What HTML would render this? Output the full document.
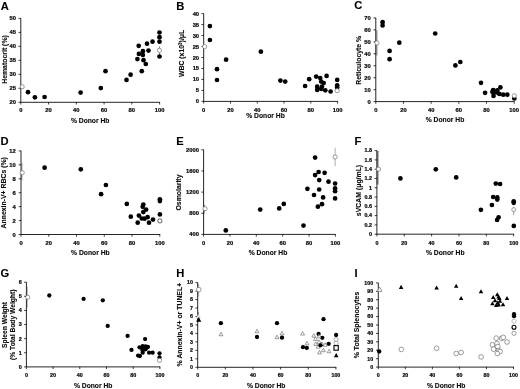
<!DOCTYPE html>
<html><head><meta charset="utf-8"><title>Figure</title>
<style>
html,body{margin:0;padding:0;background:#fff;}
body{width:520px;height:389px;overflow:hidden;}
svg{display:block;}
text{font-family:"Liberation Sans", sans-serif;font-weight:bold;fill:#0a0a0a;stroke:#0a0a0a;stroke-width:0.22px;}
.t{font-size:5.8px;}
.l{font-size:6.9px;stroke-width:0.12px;}
.x{font-size:6.75px;stroke-width:0.12px;}
.L{font-size:11.2px;fill:#000;stroke-width:0.1px;}
</style></head><body>
<svg width="520" height="389" viewBox="0 0 520 389">
<rect width="520" height="389" fill="#fff"/>
<g filter="url(#b)"><path d="M159.5 46.4V55.2" stroke="#888" stroke-width="1.0" fill="none"/><path d="M376.6 30.4V55.4" stroke="#aaa" stroke-width="2.0" fill="none"/><path d="M21.9 163V180.4" stroke="#999" stroke-width="1.0" fill="none"/><path d="M335.1 147.7V166.2" stroke="#a5a5a5" stroke-width="0.9" fill="none"/><path d="M204.6 204.5V213.5" stroke="#999" stroke-width="0.9" fill="none"/><path d="M377.6 151V184.5" stroke="#8a8a8a" stroke-width="2.0" fill="none"/><path d="M513.7 207V215" stroke="#888" stroke-width="0.9" fill="none"/><path d="M27.2 286.6V307.4" stroke="#bbb" stroke-width="1.4" fill="none"/><path d="M198.6 284V296.6" stroke="#bbb" stroke-width="1.2" fill="none"/><path d="M198.6 312V322" stroke="#aaa" stroke-width="1.0" fill="none"/></g>
<defs><filter id="b" x="-5%" y="-5%" width="110%" height="110%"><feGaussianBlur stdDeviation="0.3"/></filter></defs>
<text x="0.8" y="9.6" class="L">A</text>
<path d="M20.8 18.4V102.3H159.9" fill="none" stroke="#262626" stroke-width="1"/>
<text x="15.9" y="104.3" text-anchor="end" class="t">20</text>
<text x="15.9" y="90.32" text-anchor="end" class="t">25</text>
<text x="15.9" y="76.33" text-anchor="end" class="t">30</text>
<text x="15.9" y="62.35" text-anchor="end" class="t">35</text>
<text x="15.9" y="48.37" text-anchor="end" class="t">40</text>
<text x="15.9" y="34.38" text-anchor="end" class="t">45</text>
<text x="15.9" y="20.4" text-anchor="end" class="t">50</text>
<text x="20.8" y="112.4" text-anchor="middle" class="t">0</text>
<text x="48.56" y="112.4" text-anchor="middle" class="t">20</text>
<text x="76.32" y="112.4" text-anchor="middle" class="t">40</text>
<text x="104.08" y="112.4" text-anchor="middle" class="t">60</text>
<text x="131.84" y="112.4" text-anchor="middle" class="t">80</text>
<text x="159.6" y="112.4" text-anchor="middle" class="t">100</text>
<path d="M18.5 102.3H21M18.5 88.32H21M18.5 74.33H21M18.5 60.35H21M18.5 46.37H21M18.5 32.38H21M18.5 18.4H21M20.8 102V104.5M48.56 102V104.5M76.32 102V104.5M104.08 102V104.5M131.84 102V104.5M159.6 102V104.5" fill="none" stroke="#111" stroke-width="0.8"/>
<text x="90.2" y="122.7" text-anchor="middle" class="x">% Donor Hb</text>
<text transform="translate(7 59.5) rotate(-90)" text-anchor="middle" class="l" style="font-size:6.9px">Hematocrit (%)</text>
<text x="176.3" y="9.5" class="L">B</text>
<path d="M203.7 13.6V101.4H337.9" fill="none" stroke="#262626" stroke-width="1"/>
<text x="199.1" y="103.4" text-anchor="end" class="t">0</text>
<text x="199.1" y="92.43" text-anchor="end" class="t">5</text>
<text x="199.1" y="81.45" text-anchor="end" class="t">10</text>
<text x="199.1" y="70.47" text-anchor="end" class="t">15</text>
<text x="199.1" y="59.5" text-anchor="end" class="t">20</text>
<text x="199.1" y="48.52" text-anchor="end" class="t">25</text>
<text x="199.1" y="37.55" text-anchor="end" class="t">30</text>
<text x="199.1" y="26.57" text-anchor="end" class="t">35</text>
<text x="199.1" y="15.6" text-anchor="end" class="t">40</text>
<text x="203.7" y="112.2" text-anchor="middle" class="t">0</text>
<text x="230.48" y="112.2" text-anchor="middle" class="t">20</text>
<text x="257.26" y="112.2" text-anchor="middle" class="t">40</text>
<text x="284.04" y="112.2" text-anchor="middle" class="t">60</text>
<text x="310.82" y="112.2" text-anchor="middle" class="t">80</text>
<text x="337.6" y="112.2" text-anchor="middle" class="t">100</text>
<path d="M201.4 101.4H203.9M201.4 90.43H203.9M201.4 79.45H203.9M201.4 68.47H203.9M201.4 57.5H203.9M201.4 46.52H203.9M201.4 35.55H203.9M201.4 24.57H203.9M201.4 13.6H203.9M203.7 101.1V103.6M230.48 101.1V103.6M257.26 101.1V103.6M284.04 101.1V103.6M310.82 101.1V103.6M337.6 101.1V103.6" fill="none" stroke="#111" stroke-width="0.8"/>
<text x="265.5" y="117.8" text-anchor="middle" class="x">% Donor Hb</text>
<text transform="translate(183.7 53.4) rotate(-90)" text-anchor="middle" class="l" style="font-size:6.9px">WBC (x10<tspan dy="-2" style="font-size:4.5px">3</tspan><tspan dy="2">)/μL</tspan></text>
<text x="354.3" y="9.3" class="L">C</text>
<path d="M375.8 17.9V101.6H514.5" fill="none" stroke="#262626" stroke-width="1"/>
<text x="370.7" y="103.6" text-anchor="end" class="t">0</text>
<text x="370.7" y="91.64" text-anchor="end" class="t">10</text>
<text x="370.7" y="79.69" text-anchor="end" class="t">20</text>
<text x="370.7" y="67.73" text-anchor="end" class="t">30</text>
<text x="370.7" y="55.77" text-anchor="end" class="t">40</text>
<text x="370.7" y="43.81" text-anchor="end" class="t">50</text>
<text x="370.7" y="31.86" text-anchor="end" class="t">60</text>
<text x="370.7" y="19.9" text-anchor="end" class="t">70</text>
<text x="375.8" y="112.2" text-anchor="middle" class="t">0</text>
<text x="403.48" y="112.2" text-anchor="middle" class="t">20</text>
<text x="431.16" y="112.2" text-anchor="middle" class="t">40</text>
<text x="458.84" y="112.2" text-anchor="middle" class="t">60</text>
<text x="486.52" y="112.2" text-anchor="middle" class="t">80</text>
<text x="514.2" y="112.2" text-anchor="middle" class="t">100</text>
<path d="M373.5 101.6H376M373.5 89.64H376M373.5 77.69H376M373.5 65.73H376M373.5 53.77H376M373.5 41.81H376M373.5 29.86H376M373.5 17.9H376M375.8 101.3V103.8M403.48 101.3V103.8M431.16 101.3V103.8M458.84 101.3V103.8M486.52 101.3V103.8M514.2 101.3V103.8" fill="none" stroke="#111" stroke-width="0.8"/>
<text x="445" y="122.4" text-anchor="middle" class="x">% Donor Hb</text>
<text transform="translate(360.9 60.3) rotate(-90)" text-anchor="middle" class="l" style="font-size:6.9px">Reticulocyte %</text>
<text x="0.5" y="144.8" class="L">D</text>
<path d="M21 150.9V234.5H160.1" fill="none" stroke="#262626" stroke-width="1"/>
<text x="15.7" y="236.5" text-anchor="end" class="t">0</text>
<text x="15.7" y="222.57" text-anchor="end" class="t">2</text>
<text x="15.7" y="208.63" text-anchor="end" class="t">4</text>
<text x="15.7" y="194.7" text-anchor="end" class="t">6</text>
<text x="15.7" y="180.77" text-anchor="end" class="t">8</text>
<text x="15.7" y="166.83" text-anchor="end" class="t">10</text>
<text x="15.7" y="152.9" text-anchor="end" class="t">12</text>
<text x="21" y="245.3" text-anchor="middle" class="t">0</text>
<text x="48.76" y="245.3" text-anchor="middle" class="t">20</text>
<text x="76.52" y="245.3" text-anchor="middle" class="t">40</text>
<text x="104.28" y="245.3" text-anchor="middle" class="t">60</text>
<text x="132.04" y="245.3" text-anchor="middle" class="t">80</text>
<text x="159.8" y="245.3" text-anchor="middle" class="t">100</text>
<path d="M18.7 234.5H21.2M18.7 220.57H21.2M18.7 206.63H21.2M18.7 192.7H21.2M18.7 178.77H21.2M18.7 164.83H21.2M18.7 150.9H21.2M21 234.2V236.7M48.76 234.2V236.7M76.52 234.2V236.7M104.28 234.2V236.7M132.04 234.2V236.7M159.8 234.2V236.7" fill="none" stroke="#111" stroke-width="0.8"/>
<text x="90.4" y="255" text-anchor="middle" class="x">% Donor Hb</text>
<text transform="translate(5.6 192.8) rotate(-90)" text-anchor="middle" class="l" style="font-size:6.9px">Annexin-V+ RBCs (%)</text>
<text x="176.2" y="144.8" class="L">E</text>
<path d="M203.6 149.8V234.4H335.7" fill="none" stroke="#262626" stroke-width="1"/>
<text x="199" y="236.4" text-anchor="end" class="t">400</text>
<text x="199" y="215.25" text-anchor="end" class="t">800</text>
<text x="199" y="194.1" text-anchor="end" class="t">1200</text>
<text x="199" y="172.95" text-anchor="end" class="t">1600</text>
<text x="199" y="151.8" text-anchor="end" class="t">2000</text>
<text x="203.6" y="245.3" text-anchor="middle" class="t">0</text>
<text x="229.96" y="245.3" text-anchor="middle" class="t">20</text>
<text x="256.32" y="245.3" text-anchor="middle" class="t">40</text>
<text x="282.68" y="245.3" text-anchor="middle" class="t">60</text>
<text x="309.04" y="245.3" text-anchor="middle" class="t">80</text>
<text x="335.4" y="245.3" text-anchor="middle" class="t">100</text>
<path d="M201.3 234.4H203.8M201.3 213.25H203.8M201.3 192.1H203.8M201.3 170.95H203.8M201.3 149.8H203.8M203.6 234.1V236.6M229.96 234.1V236.6M256.32 234.1V236.6M282.68 234.1V236.6M309.04 234.1V236.6M335.4 234.1V236.6" fill="none" stroke="#111" stroke-width="0.8"/>
<text x="268" y="254.6" text-anchor="middle" class="x">% Donor Hb</text>
<text transform="translate(181.2 192.5) rotate(-90)" text-anchor="middle" class="l" style="font-size:6.9px">Osmolarity</text>
<text x="354.6" y="144.8" class="L">F</text>
<path d="M376.9 150.6V234.2H514" fill="none" stroke="#262626" stroke-width="1"/>
<text x="372.1" y="236.06" text-anchor="end" class="t" style="font-size:5.4px">0</text>
<text x="372.1" y="226.77" text-anchor="end" class="t" style="font-size:5.4px">0.2</text>
<text x="372.1" y="217.49" text-anchor="end" class="t" style="font-size:5.4px">0.4</text>
<text x="372.1" y="208.2" text-anchor="end" class="t" style="font-size:5.4px">0.6</text>
<text x="372.1" y="198.91" text-anchor="end" class="t" style="font-size:5.4px">0.8</text>
<text x="372.1" y="189.62" text-anchor="end" class="t" style="font-size:5.4px">1</text>
<text x="372.1" y="180.33" text-anchor="end" class="t" style="font-size:5.4px">1.2</text>
<text x="372.1" y="171.04" text-anchor="end" class="t" style="font-size:5.4px">1.4</text>
<text x="372.1" y="161.75" text-anchor="end" class="t" style="font-size:5.4px">1.6</text>
<text x="372.1" y="152.46" text-anchor="end" class="t" style="font-size:5.4px">1.8</text>
<text x="376.9" y="245.3" text-anchor="middle" class="t" style="font-size:5.4px">0</text>
<text x="404.26" y="245.3" text-anchor="middle" class="t" style="font-size:5.4px">20</text>
<text x="431.62" y="245.3" text-anchor="middle" class="t" style="font-size:5.4px">40</text>
<text x="458.98" y="245.3" text-anchor="middle" class="t" style="font-size:5.4px">60</text>
<text x="486.34" y="245.3" text-anchor="middle" class="t" style="font-size:5.4px">80</text>
<text x="513.7" y="245.3" text-anchor="middle" class="t" style="font-size:5.4px">100</text>
<path d="M374.6 234.2H377.1M374.6 224.91H377.1M374.6 215.62H377.1M374.6 206.33H377.1M374.6 197.04H377.1M374.6 187.76H377.1M374.6 178.47H377.1M374.6 169.18H377.1M374.6 159.89H377.1M374.6 150.6H377.1M376.9 233.9V236.4M404.26 233.9V236.4M431.62 233.9V236.4M458.98 233.9V236.4M486.34 233.9V236.4M513.7 233.9V236.4" fill="none" stroke="#111" stroke-width="0.8"/>
<text x="445.3" y="254.9" text-anchor="middle" class="x">% Donor Hb</text>
<text transform="translate(360.9 190.5) rotate(-90)" text-anchor="middle" class="l" style="font-size:6.9px">sVCAM (μg/mL)</text>
<text x="0.4" y="277.2" class="L">G</text>
<path d="M26.4 282.2V366.9H160.2" fill="none" stroke="#262626" stroke-width="1"/>
<text x="21.8" y="368.76" text-anchor="end" class="t" style="font-size:5.4px">0</text>
<text x="21.8" y="354.65" text-anchor="end" class="t" style="font-size:5.4px">1</text>
<text x="21.8" y="340.53" text-anchor="end" class="t" style="font-size:5.4px">2</text>
<text x="21.8" y="326.41" text-anchor="end" class="t" style="font-size:5.4px">3</text>
<text x="21.8" y="312.3" text-anchor="end" class="t" style="font-size:5.4px">4</text>
<text x="21.8" y="298.18" text-anchor="end" class="t" style="font-size:5.4px">5</text>
<text x="21.8" y="284.06" text-anchor="end" class="t" style="font-size:5.4px">6</text>
<text x="26.4" y="376.9" text-anchor="middle" class="t" style="font-size:5.4px">0</text>
<text x="53.1" y="376.9" text-anchor="middle" class="t" style="font-size:5.4px">20</text>
<text x="79.8" y="376.9" text-anchor="middle" class="t" style="font-size:5.4px">40</text>
<text x="106.5" y="376.9" text-anchor="middle" class="t" style="font-size:5.4px">60</text>
<text x="133.2" y="376.9" text-anchor="middle" class="t" style="font-size:5.4px">80</text>
<text x="159.9" y="376.9" text-anchor="middle" class="t" style="font-size:5.4px">100</text>
<path d="M24.1 366.9H26.6M24.1 352.78H26.6M24.1 338.67H26.6M24.1 324.55H26.6M24.1 310.43H26.6M24.1 296.32H26.6M24.1 282.2H26.6M26.4 366.6V369.1M53.1 366.6V369.1M79.8 366.6V369.1M106.5 366.6V369.1M133.2 366.6V369.1M159.9 366.6V369.1" fill="none" stroke="#111" stroke-width="0.8"/>
<text x="93.2" y="388" text-anchor="middle" class="x">% Donor Hb</text>
<text transform="translate(6.7 325.1) rotate(-90)" text-anchor="middle" class="l" style="font-size:6.7px">Spleen Weight</text>
<text transform="translate(14.6 324.8) rotate(-90)" text-anchor="middle" class="l" style="font-size:6.7px">(% Total Body Weight)</text>
<text x="176.2" y="277.2" class="L">H</text>
<path d="M197.7 282.6V367.3H336.2" fill="none" stroke="#262626" stroke-width="1"/>
<text x="192.9" y="369.13" text-anchor="end" class="t" style="font-size:5.3px">0</text>
<text x="192.9" y="360.66" text-anchor="end" class="t" style="font-size:5.3px">1</text>
<text x="192.9" y="352.19" text-anchor="end" class="t" style="font-size:5.3px">2</text>
<text x="192.9" y="343.72" text-anchor="end" class="t" style="font-size:5.3px">3</text>
<text x="192.9" y="335.25" text-anchor="end" class="t" style="font-size:5.3px">4</text>
<text x="192.9" y="326.78" text-anchor="end" class="t" style="font-size:5.3px">5</text>
<text x="192.9" y="318.31" text-anchor="end" class="t" style="font-size:5.3px">6</text>
<text x="192.9" y="309.84" text-anchor="end" class="t" style="font-size:5.3px">7</text>
<text x="192.9" y="301.37" text-anchor="end" class="t" style="font-size:5.3px">8</text>
<text x="192.9" y="292.9" text-anchor="end" class="t" style="font-size:5.3px">9</text>
<text x="192.9" y="284.43" text-anchor="end" class="t" style="font-size:5.3px">10</text>
<text x="197.7" y="376.9" text-anchor="middle" class="t" style="font-size:5.3px">0</text>
<text x="225.34" y="376.9" text-anchor="middle" class="t" style="font-size:5.3px">20</text>
<text x="252.98" y="376.9" text-anchor="middle" class="t" style="font-size:5.3px">40</text>
<text x="280.62" y="376.9" text-anchor="middle" class="t" style="font-size:5.3px">60</text>
<text x="308.26" y="376.9" text-anchor="middle" class="t" style="font-size:5.3px">80</text>
<text x="335.9" y="376.9" text-anchor="middle" class="t" style="font-size:5.3px">100</text>
<path d="M195.4 367.3H197.9M195.4 358.83H197.9M195.4 350.36H197.9M195.4 341.89H197.9M195.4 333.42H197.9M195.4 324.95H197.9M195.4 316.48H197.9M195.4 308.01H197.9M195.4 299.54H197.9M195.4 291.07H197.9M195.4 282.6H197.9M197.7 367V369.5M225.34 367V369.5M252.98 367V369.5M280.62 367V369.5M308.26 367V369.5M335.9 367V369.5" fill="none" stroke="#111" stroke-width="0.8"/>
<text x="266.2" y="388.2" text-anchor="middle" class="x">% Donor Hb</text>
<text transform="translate(182.3 324.6) rotate(-90)" text-anchor="middle" class="l" style="font-size:6.9px">% Annexin-V+ or TUNEL+</text>
<text x="354.5" y="277.4" class="L">I</text>
<path d="M378.3 282.9V367.1H513.8" fill="none" stroke="#262626" stroke-width="1"/>
<text x="373.1" y="368.93" text-anchor="end" class="t" style="font-size:5.3px">0</text>
<text x="373.1" y="360.51" text-anchor="end" class="t" style="font-size:5.3px">10</text>
<text x="373.1" y="352.09" text-anchor="end" class="t" style="font-size:5.3px">20</text>
<text x="373.1" y="343.67" text-anchor="end" class="t" style="font-size:5.3px">30</text>
<text x="373.1" y="335.25" text-anchor="end" class="t" style="font-size:5.3px">40</text>
<text x="373.1" y="326.83" text-anchor="end" class="t" style="font-size:5.3px">50</text>
<text x="373.1" y="318.41" text-anchor="end" class="t" style="font-size:5.3px">60</text>
<text x="373.1" y="309.99" text-anchor="end" class="t" style="font-size:5.3px">70</text>
<text x="373.1" y="301.57" text-anchor="end" class="t" style="font-size:5.3px">80</text>
<text x="373.1" y="293.15" text-anchor="end" class="t" style="font-size:5.3px">90</text>
<text x="373.1" y="284.73" text-anchor="end" class="t" style="font-size:5.3px">100</text>
<text x="378.3" y="376.9" text-anchor="middle" class="t" style="font-size:5.3px">0</text>
<text x="405.34" y="376.9" text-anchor="middle" class="t" style="font-size:5.3px">20</text>
<text x="432.38" y="376.9" text-anchor="middle" class="t" style="font-size:5.3px">40</text>
<text x="459.42" y="376.9" text-anchor="middle" class="t" style="font-size:5.3px">60</text>
<text x="486.46" y="376.9" text-anchor="middle" class="t" style="font-size:5.3px">80</text>
<text x="513.5" y="376.9" text-anchor="middle" class="t" style="font-size:5.3px">100</text>
<path d="M376 367.1H378.5M376 358.68H378.5M376 350.26H378.5M376 341.84H378.5M376 333.42H378.5M376 325H378.5M376 316.58H378.5M376 308.16H378.5M376 299.74H378.5M376 291.32H378.5M376 282.9H378.5M378.3 366.8V369.3M405.34 366.8V369.3M432.38 366.8V369.3M459.42 366.8V369.3M486.46 366.8V369.3M513.5 366.8V369.3" fill="none" stroke="#111" stroke-width="0.8"/>
<text x="446.2" y="388.2" text-anchor="middle" class="x">% Donor Hb</text>
<text transform="translate(359.3 325) rotate(-90)" text-anchor="middle" class="l" style="font-size:6.9px">% Total Splenocytes</text>
<g filter="url(#b)">
<circle cx="28" cy="92.2" r="2.35" fill="#000"/>
<circle cx="34.9" cy="97.3" r="2.35" fill="#000"/>
<circle cx="44.6" cy="97" r="2.35" fill="#000"/>
<circle cx="80.6" cy="92.6" r="2.35" fill="#000"/>
<circle cx="100.8" cy="88.1" r="2.35" fill="#000"/>
<circle cx="105.5" cy="71.2" r="2.35" fill="#000"/>
<circle cx="126.5" cy="79.9" r="2.35" fill="#000"/>
<circle cx="130.6" cy="74.7" r="2.35" fill="#000"/>
<circle cx="141.8" cy="71.2" r="2.35" fill="#000"/>
<circle cx="145.8" cy="64" r="2.35" fill="#000"/>
<circle cx="143.5" cy="60.2" r="2.35" fill="#000"/>
<circle cx="137.4" cy="59.1" r="2.35" fill="#000"/>
<circle cx="159.5" cy="56.5" r="2.35" fill="#000"/>
<circle cx="142.9" cy="55" r="2.35" fill="#000"/>
<circle cx="138.9" cy="53.9" r="2.35" fill="#000"/>
<circle cx="142.9" cy="51.2" r="2.35" fill="#000"/>
<circle cx="148.5" cy="50.6" r="2.35" fill="#000"/>
<circle cx="138.7" cy="45.8" r="2.35" fill="#000"/>
<circle cx="147" cy="43.7" r="2.35" fill="#000"/>
<circle cx="152.5" cy="41.7" r="2.35" fill="#000"/>
<circle cx="159.5" cy="41.7" r="2.35" fill="#000"/>
<circle cx="159.5" cy="37.2" r="2.35" fill="#000"/>
<circle cx="159.5" cy="32.5" r="2.35" fill="#000"/>
<circle cx="22.2" cy="86.8" r="2.1" fill="#fff" stroke="#666" stroke-width="0.65"/>
<circle cx="159.5" cy="50.4" r="2.1" fill="#fff" stroke="#666" stroke-width="0.65"/>
<circle cx="209.9" cy="26.1" r="2.35" fill="#000"/>
<circle cx="209.9" cy="40" r="2.35" fill="#000"/>
<circle cx="260.9" cy="51.7" r="2.35" fill="#000"/>
<circle cx="226.1" cy="59.7" r="2.35" fill="#000"/>
<circle cx="217" cy="69.2" r="2.35" fill="#000"/>
<circle cx="217" cy="80" r="2.35" fill="#000"/>
<circle cx="280.4" cy="80.6" r="2.35" fill="#000"/>
<circle cx="285.2" cy="81.6" r="2.35" fill="#000"/>
<circle cx="305.1" cy="86" r="2.35" fill="#000"/>
<circle cx="309.2" cy="79.2" r="2.35" fill="#000"/>
<circle cx="316.2" cy="76.6" r="2.35" fill="#000"/>
<circle cx="320.2" cy="78" r="2.35" fill="#000"/>
<circle cx="326.6" cy="75.9" r="2.35" fill="#000"/>
<circle cx="321.2" cy="81.6" r="2.35" fill="#000"/>
<circle cx="323.7" cy="83.1" r="2.35" fill="#000"/>
<circle cx="317.2" cy="86.7" r="2.35" fill="#000"/>
<circle cx="322" cy="86.7" r="2.35" fill="#000"/>
<circle cx="317.2" cy="89.9" r="2.35" fill="#000"/>
<circle cx="321.2" cy="88.9" r="2.35" fill="#000"/>
<circle cx="325.3" cy="90.3" r="2.35" fill="#000"/>
<circle cx="330.6" cy="91.5" r="2.35" fill="#000"/>
<circle cx="337.2" cy="79.9" r="2.35" fill="#000"/>
<circle cx="337.2" cy="85.3" r="2.35" fill="#000"/>
<circle cx="337.2" cy="87.5" r="2.35" fill="#000"/>
<circle cx="204.6" cy="46.6" r="2.1" fill="#fff" stroke="#666" stroke-width="0.65"/>
<circle cx="337.2" cy="90.7" r="2.1" fill="#fff" stroke="#666" stroke-width="0.65"/>
<circle cx="382.6" cy="22.2" r="2.35" fill="#000"/>
<circle cx="382.6" cy="25.5" r="2.35" fill="#000"/>
<circle cx="399.3" cy="42.7" r="2.35" fill="#000"/>
<circle cx="389.6" cy="50.9" r="2.35" fill="#000"/>
<circle cx="389.6" cy="59.2" r="2.35" fill="#000"/>
<circle cx="435.2" cy="33.5" r="2.35" fill="#000"/>
<circle cx="455.4" cy="65.4" r="2.35" fill="#000"/>
<circle cx="460.3" cy="62" r="2.35" fill="#000"/>
<circle cx="481" cy="82.8" r="2.35" fill="#000"/>
<circle cx="485.1" cy="92.8" r="2.35" fill="#000"/>
<circle cx="500.4" cy="87.4" r="2.35" fill="#000"/>
<circle cx="493.2" cy="90" r="2.35" fill="#000"/>
<circle cx="497.3" cy="90.4" r="2.35" fill="#000"/>
<circle cx="492.4" cy="91.9" r="2.35" fill="#000"/>
<circle cx="496.2" cy="92.4" r="2.35" fill="#000"/>
<circle cx="499.3" cy="93.9" r="2.35" fill="#000"/>
<circle cx="503.2" cy="94.7" r="2.35" fill="#000"/>
<circle cx="507.3" cy="94.7" r="2.35" fill="#000"/>
<circle cx="493.5" cy="95.9" r="2.35" fill="#000"/>
<circle cx="514.3" cy="98.5" r="2.35" fill="#000"/>
<circle cx="376.9" cy="42.9" r="2.1" fill="#fff" stroke="#666" stroke-width="0.65"/>
<circle cx="514.3" cy="95.8" r="2.1" fill="#fff" stroke="#666" stroke-width="0.65"/>
<circle cx="44.6" cy="167.7" r="2.35" fill="#000"/>
<circle cx="80.8" cy="169.3" r="2.35" fill="#000"/>
<circle cx="105.9" cy="185" r="2.35" fill="#000"/>
<circle cx="101.1" cy="194.2" r="2.35" fill="#000"/>
<circle cx="126.8" cy="203.9" r="2.35" fill="#000"/>
<circle cx="159.9" cy="199.3" r="2.35" fill="#000"/>
<circle cx="159.9" cy="201.1" r="2.35" fill="#000"/>
<circle cx="143.3" cy="204.5" r="2.35" fill="#000"/>
<circle cx="142.7" cy="206.8" r="2.35" fill="#000"/>
<circle cx="146.1" cy="209.6" r="2.35" fill="#000"/>
<circle cx="143.3" cy="212.1" r="2.35" fill="#000"/>
<circle cx="159.9" cy="214.4" r="2.35" fill="#000"/>
<circle cx="138.9" cy="215.6" r="2.35" fill="#000"/>
<circle cx="130.8" cy="216.7" r="2.35" fill="#000"/>
<circle cx="147.6" cy="217.2" r="2.35" fill="#000"/>
<circle cx="141.8" cy="218.5" r="2.35" fill="#000"/>
<circle cx="144.5" cy="218.7" r="2.35" fill="#000"/>
<circle cx="153" cy="219.6" r="2.35" fill="#000"/>
<circle cx="137.7" cy="222.7" r="2.35" fill="#000"/>
<circle cx="149" cy="222.7" r="2.35" fill="#000"/>
<circle cx="22.2" cy="172.7" r="2.1" fill="#fff" stroke="#666" stroke-width="0.65"/>
<circle cx="159.9" cy="220.9" r="2.1" fill="#fff" stroke="#333" stroke-width="0.8"/>
<circle cx="225.8" cy="230.4" r="2.35" fill="#000"/>
<circle cx="260.2" cy="209.6" r="2.35" fill="#000"/>
<circle cx="279.2" cy="208.4" r="2.35" fill="#000"/>
<circle cx="283.8" cy="203.9" r="2.35" fill="#000"/>
<circle cx="303.5" cy="225.6" r="2.35" fill="#000"/>
<circle cx="315.1" cy="157.6" r="2.35" fill="#000"/>
<circle cx="318.6" cy="172" r="2.35" fill="#000"/>
<circle cx="315.1" cy="175.1" r="2.35" fill="#000"/>
<circle cx="324.6" cy="172.8" r="2.35" fill="#000"/>
<circle cx="319.2" cy="180.1" r="2.35" fill="#000"/>
<circle cx="328.5" cy="181.7" r="2.35" fill="#000"/>
<circle cx="335.1" cy="183.5" r="2.35" fill="#000"/>
<circle cx="307.4" cy="188.8" r="2.35" fill="#000"/>
<circle cx="319.2" cy="189.5" r="2.35" fill="#000"/>
<circle cx="335.1" cy="188.4" r="2.35" fill="#000"/>
<circle cx="335.1" cy="191.2" r="2.35" fill="#000"/>
<circle cx="314" cy="195" r="2.35" fill="#000"/>
<circle cx="323.1" cy="197.4" r="2.35" fill="#000"/>
<circle cx="335.1" cy="198.4" r="2.35" fill="#000"/>
<circle cx="322" cy="204.2" r="2.35" fill="#000"/>
<circle cx="317.9" cy="206.7" r="2.35" fill="#000"/>
<circle cx="205" cy="208.7" r="2.1" fill="#fff" stroke="#666" stroke-width="0.65"/>
<circle cx="335.1" cy="157" r="2.1" fill="#fff" stroke="#666" stroke-width="0.65"/>
<circle cx="400.4" cy="178.4" r="2.35" fill="#000"/>
<circle cx="435.8" cy="169.3" r="2.35" fill="#000"/>
<circle cx="456.2" cy="177.4" r="2.35" fill="#000"/>
<circle cx="495.8" cy="183.6" r="2.35" fill="#000"/>
<circle cx="500.1" cy="184" r="2.35" fill="#000"/>
<circle cx="493.2" cy="197" r="2.35" fill="#000"/>
<circle cx="497.3" cy="197.4" r="2.35" fill="#000"/>
<circle cx="497.3" cy="199.6" r="2.35" fill="#000"/>
<circle cx="491.9" cy="205" r="2.35" fill="#000"/>
<circle cx="480.9" cy="209.8" r="2.35" fill="#000"/>
<circle cx="513.7" cy="201.3" r="2.35" fill="#000"/>
<circle cx="513.7" cy="202.8" r="2.35" fill="#000"/>
<circle cx="498.6" cy="217.3" r="2.35" fill="#000"/>
<circle cx="497.1" cy="220" r="2.35" fill="#000"/>
<circle cx="513.8" cy="225.9" r="2.35" fill="#000"/>
<circle cx="378.5" cy="169.2" r="2.1" fill="#fff" stroke="#666" stroke-width="0.65"/>
<circle cx="513.7" cy="209.6" r="1.95" fill="#fff" stroke="#666" stroke-width="0.65"/>
<circle cx="49.3" cy="295.5" r="2.15" fill="#000"/>
<circle cx="83.6" cy="298.9" r="2.15" fill="#000"/>
<circle cx="102.8" cy="300.3" r="2.15" fill="#000"/>
<circle cx="107.7" cy="325.9" r="2.15" fill="#000"/>
<circle cx="127.6" cy="335.9" r="2.15" fill="#000"/>
<circle cx="145.1" cy="339.1" r="2.15" fill="#000"/>
<circle cx="131.5" cy="349.9" r="2.15" fill="#000"/>
<circle cx="139.5" cy="347.3" r="2.15" fill="#000"/>
<circle cx="142.7" cy="346.2" r="2.15" fill="#000"/>
<circle cx="145.6" cy="346.4" r="2.15" fill="#000"/>
<circle cx="147.9" cy="347" r="2.15" fill="#000"/>
<circle cx="142.2" cy="348.7" r="2.15" fill="#000"/>
<circle cx="145.6" cy="349.3" r="2.15" fill="#000"/>
<circle cx="149.1" cy="352.7" r="2.15" fill="#000"/>
<circle cx="152.6" cy="352.7" r="2.15" fill="#000"/>
<circle cx="142.7" cy="352.7" r="2.15" fill="#000"/>
<circle cx="138.1" cy="355.6" r="2.15" fill="#000"/>
<circle cx="139.9" cy="356" r="2.15" fill="#000"/>
<circle cx="142.6" cy="350.6" r="2.15" fill="#000"/>
<circle cx="159.5" cy="353.3" r="2.15" fill="#000"/>
<circle cx="159.5" cy="357.5" r="2.15" fill="#000"/>
<circle cx="27.7" cy="297.3" r="2.1" fill="#fff" stroke="#666" stroke-width="0.65"/>
<circle cx="159.5" cy="360.3" r="2.1" fill="#fff" stroke="#666" stroke-width="0.65"/>
<path d="M198.3 314.4L200.3 318H196.3Z" fill="#fff" stroke="#aaa" stroke-width="0.5" stroke-linejoin="miter"/>
<path d="M198.7 317L201.3 321.68H196.1Z" fill="#000" stroke="none" stroke-width="0.6" stroke-linejoin="miter"/>
<path d="M221 332.25L222.95 335.76H219.05Z" fill="#fff" stroke="#666" stroke-width="0.65" stroke-linejoin="miter"/>
<path d="M257 329.25L258.95 332.76H255.05Z" fill="#fff" stroke="#666" stroke-width="0.65" stroke-linejoin="miter"/>
<path d="M277 335.15L278.95 338.66H275.05Z" fill="#fff" stroke="#666" stroke-width="0.65" stroke-linejoin="miter"/>
<path d="M282 331.35L283.95 334.86H280.05Z" fill="#fff" stroke="#666" stroke-width="0.65" stroke-linejoin="miter"/>
<path d="M302.6 331.55L304.55 335.06H300.65Z" fill="#fff" stroke="#666" stroke-width="0.65" stroke-linejoin="miter"/>
<path d="M307 341.35L308.95 344.86H305.05Z" fill="#fff" stroke="#666" stroke-width="0.65" stroke-linejoin="miter"/>
<path d="M313.8 333.65L315.75 337.16H311.85Z" fill="#fff" stroke="#666" stroke-width="0.65" stroke-linejoin="miter"/>
<path d="M315.4 336.95L317.35 340.46H313.45Z" fill="#fff" stroke="#666" stroke-width="0.65" stroke-linejoin="miter"/>
<path d="M319 339.85L320.95 343.36H317.05Z" fill="#fff" stroke="#666" stroke-width="0.65" stroke-linejoin="miter"/>
<path d="M315.7 341.85L317.65 345.36H313.75Z" fill="#fff" stroke="#666" stroke-width="0.65" stroke-linejoin="miter"/>
<path d="M318.1 344.65L320.05 348.16H316.15Z" fill="#fff" stroke="#666" stroke-width="0.65" stroke-linejoin="miter"/>
<path d="M321.9 341.85L323.85 345.36H319.95Z" fill="#fff" stroke="#666" stroke-width="0.65" stroke-linejoin="miter"/>
<path d="M319.5 350.45L321.45 353.96H317.55Z" fill="#fff" stroke="#666" stroke-width="0.65" stroke-linejoin="miter"/>
<path d="M323.4 348.25L325.35 351.76H321.45Z" fill="#fff" stroke="#666" stroke-width="0.65" stroke-linejoin="miter"/>
<path d="M329.1 349.25L331.05 352.76H327.15Z" fill="#fff" stroke="#666" stroke-width="0.65" stroke-linejoin="miter"/>
<circle cx="220.9" cy="323.2" r="2.15" fill="#000"/>
<circle cx="257" cy="337" r="2.15" fill="#000"/>
<circle cx="277" cy="323.2" r="2.15" fill="#000"/>
<circle cx="282" cy="337.7" r="2.15" fill="#000"/>
<circle cx="323.5" cy="319.2" r="2.15" fill="#000"/>
<circle cx="303" cy="347.2" r="2.15" fill="#000"/>
<circle cx="306.8" cy="347.9" r="2.15" fill="#000"/>
<circle cx="318.6" cy="334" r="2.15" fill="#000"/>
<circle cx="322.3" cy="337.8" r="2.15" fill="#000"/>
<circle cx="328.7" cy="343.8" r="2.15" fill="#000"/>
<circle cx="320.5" cy="345.3" r="2.15" fill="#000"/>
<circle cx="336.1" cy="335" r="2.15" fill="#000"/>
<path d="M319 334.35L320.95 337.86H317.05Z" fill="#fff" stroke="#666" stroke-width="0.65" stroke-linejoin="miter"/>
<path d="M325.1 342.75L327.05 346.26H323.15Z" fill="#fff" stroke="#666" stroke-width="0.65" stroke-linejoin="miter"/>
<rect x="196.7" y="287.5" width="4.2" height="4.2" rx="1.3" fill="#fff" stroke="#666" stroke-width="0.65"/>
<circle cx="336.1" cy="339.5" r="2.1" fill="#fff" stroke="#777" stroke-width="0.6"/>
<circle cx="336.1" cy="343.3" r="2.1" fill="#fff" stroke="#777" stroke-width="0.6"/>
<rect x="334" y="345.6" width="4.3" height="4.6" fill="#fff" stroke="#000" stroke-width="1.1"/>
<path d="M336.2 353L338.5 357.14H333.9Z" fill="#000" stroke="none" stroke-width="0.6" stroke-linejoin="miter"/>
<path d="M401.1 284.85L403.35 288.9H398.85Z" fill="#000" stroke="none" stroke-width="0.6" stroke-linejoin="miter"/>
<path d="M436.6 285.55L438.85 289.6H434.35Z" fill="#000" stroke="none" stroke-width="0.6" stroke-linejoin="miter"/>
<path d="M456.2 283.75L458.45 287.8H453.95Z" fill="#000" stroke="none" stroke-width="0.6" stroke-linejoin="miter"/>
<path d="M461.1 296.05L463.35 300.1H458.85Z" fill="#000" stroke="none" stroke-width="0.6" stroke-linejoin="miter"/>
<path d="M481 289.15L483.25 293.2H478.75Z" fill="#000" stroke="none" stroke-width="0.6" stroke-linejoin="miter"/>
<path d="M493.2 294.95L495.45 299H490.95Z" fill="#000" stroke="none" stroke-width="0.6" stroke-linejoin="miter"/>
<path d="M497.3 292.25L499.55 296.3H495.05Z" fill="#000" stroke="none" stroke-width="0.6" stroke-linejoin="miter"/>
<path d="M499.3 296.05L501.55 300.1H497.05Z" fill="#000" stroke="none" stroke-width="0.6" stroke-linejoin="miter"/>
<path d="M507 296.05L509.25 300.1H504.75Z" fill="#000" stroke="none" stroke-width="0.6" stroke-linejoin="miter"/>
<path d="M492.4 301.15L494.65 305.2H490.15Z" fill="#000" stroke="none" stroke-width="0.6" stroke-linejoin="miter"/>
<path d="M497.8 300.35L500.05 304.4H495.55Z" fill="#000" stroke="none" stroke-width="0.6" stroke-linejoin="miter"/>
<path d="M496.2 302.95L498.45 307H493.95Z" fill="#000" stroke="none" stroke-width="0.6" stroke-linejoin="miter"/>
<path d="M503 302.25L505.25 306.3H500.75Z" fill="#000" stroke="none" stroke-width="0.6" stroke-linejoin="miter"/>
<path d="M500 298.75L502.25 302.8H497.75Z" fill="#000" stroke="none" stroke-width="0.6" stroke-linejoin="miter"/>
<path d="M498.5 294.55L500.75 298.6H496.25Z" fill="#000" stroke="none" stroke-width="0.6" stroke-linejoin="miter"/>
<path d="M495 298.25L497.25 302.3H492.75Z" fill="#000" stroke="none" stroke-width="0.6" stroke-linejoin="miter"/>
<path d="M498.6 302.55L500.85 306.6H496.35Z" fill="#000" stroke="none" stroke-width="0.6" stroke-linejoin="miter"/>
<path d="M379.6 287.1L382 291.42H377.2Z" fill="#fff" stroke="#666" stroke-width="0.65" stroke-linejoin="miter"/>
<circle cx="401.3" cy="349.4" r="2.35" fill="#fff" stroke="#666" stroke-width="0.65"/>
<circle cx="436.6" cy="348.3" r="2.35" fill="#fff" stroke="#666" stroke-width="0.65"/>
<circle cx="456.2" cy="353.5" r="2.35" fill="#fff" stroke="#666" stroke-width="0.65"/>
<circle cx="461.1" cy="352.5" r="2.35" fill="#fff" stroke="#666" stroke-width="0.65"/>
<circle cx="481.1" cy="356.9" r="2.35" fill="#fff" stroke="#666" stroke-width="0.65"/>
<circle cx="496.2" cy="338.1" r="2.35" fill="#fff" stroke="#666" stroke-width="0.65"/>
<circle cx="501.6" cy="338.4" r="2.35" fill="#fff" stroke="#666" stroke-width="0.65"/>
<circle cx="503.2" cy="337.4" r="2.35" fill="#fff" stroke="#666" stroke-width="0.65"/>
<circle cx="507" cy="342" r="2.35" fill="#fff" stroke="#666" stroke-width="0.65"/>
<circle cx="492.4" cy="344.8" r="2.35" fill="#fff" stroke="#666" stroke-width="0.65"/>
<circle cx="497" cy="343.5" r="2.35" fill="#fff" stroke="#666" stroke-width="0.65"/>
<circle cx="497.8" cy="346.6" r="2.35" fill="#fff" stroke="#666" stroke-width="0.65"/>
<circle cx="493.5" cy="349.2" r="2.35" fill="#fff" stroke="#666" stroke-width="0.65"/>
<circle cx="498.6" cy="350.8" r="2.35" fill="#fff" stroke="#666" stroke-width="0.65"/>
<circle cx="500.1" cy="351.5" r="2.35" fill="#fff" stroke="#666" stroke-width="0.65"/>
<circle cx="497.3" cy="353.5" r="2.35" fill="#fff" stroke="#666" stroke-width="0.65"/>
<circle cx="514" cy="321.2" r="2.1" fill="#fff" stroke="#999" stroke-width="0.6"/>
<circle cx="514" cy="333.3" r="2.1" fill="#fff" stroke="#666" stroke-width="0.65"/>
<circle cx="514" cy="327.3" r="2.0" fill="#fff" stroke="#000" stroke-width="1.1"/>
<circle cx="379.2" cy="351.5" r="2.15" fill="#000"/>
<circle cx="514" cy="314.2" r="2.15" fill="#000"/>
<circle cx="514" cy="316.2" r="2.15" fill="#000"/>
</g>
</svg></body></html>
